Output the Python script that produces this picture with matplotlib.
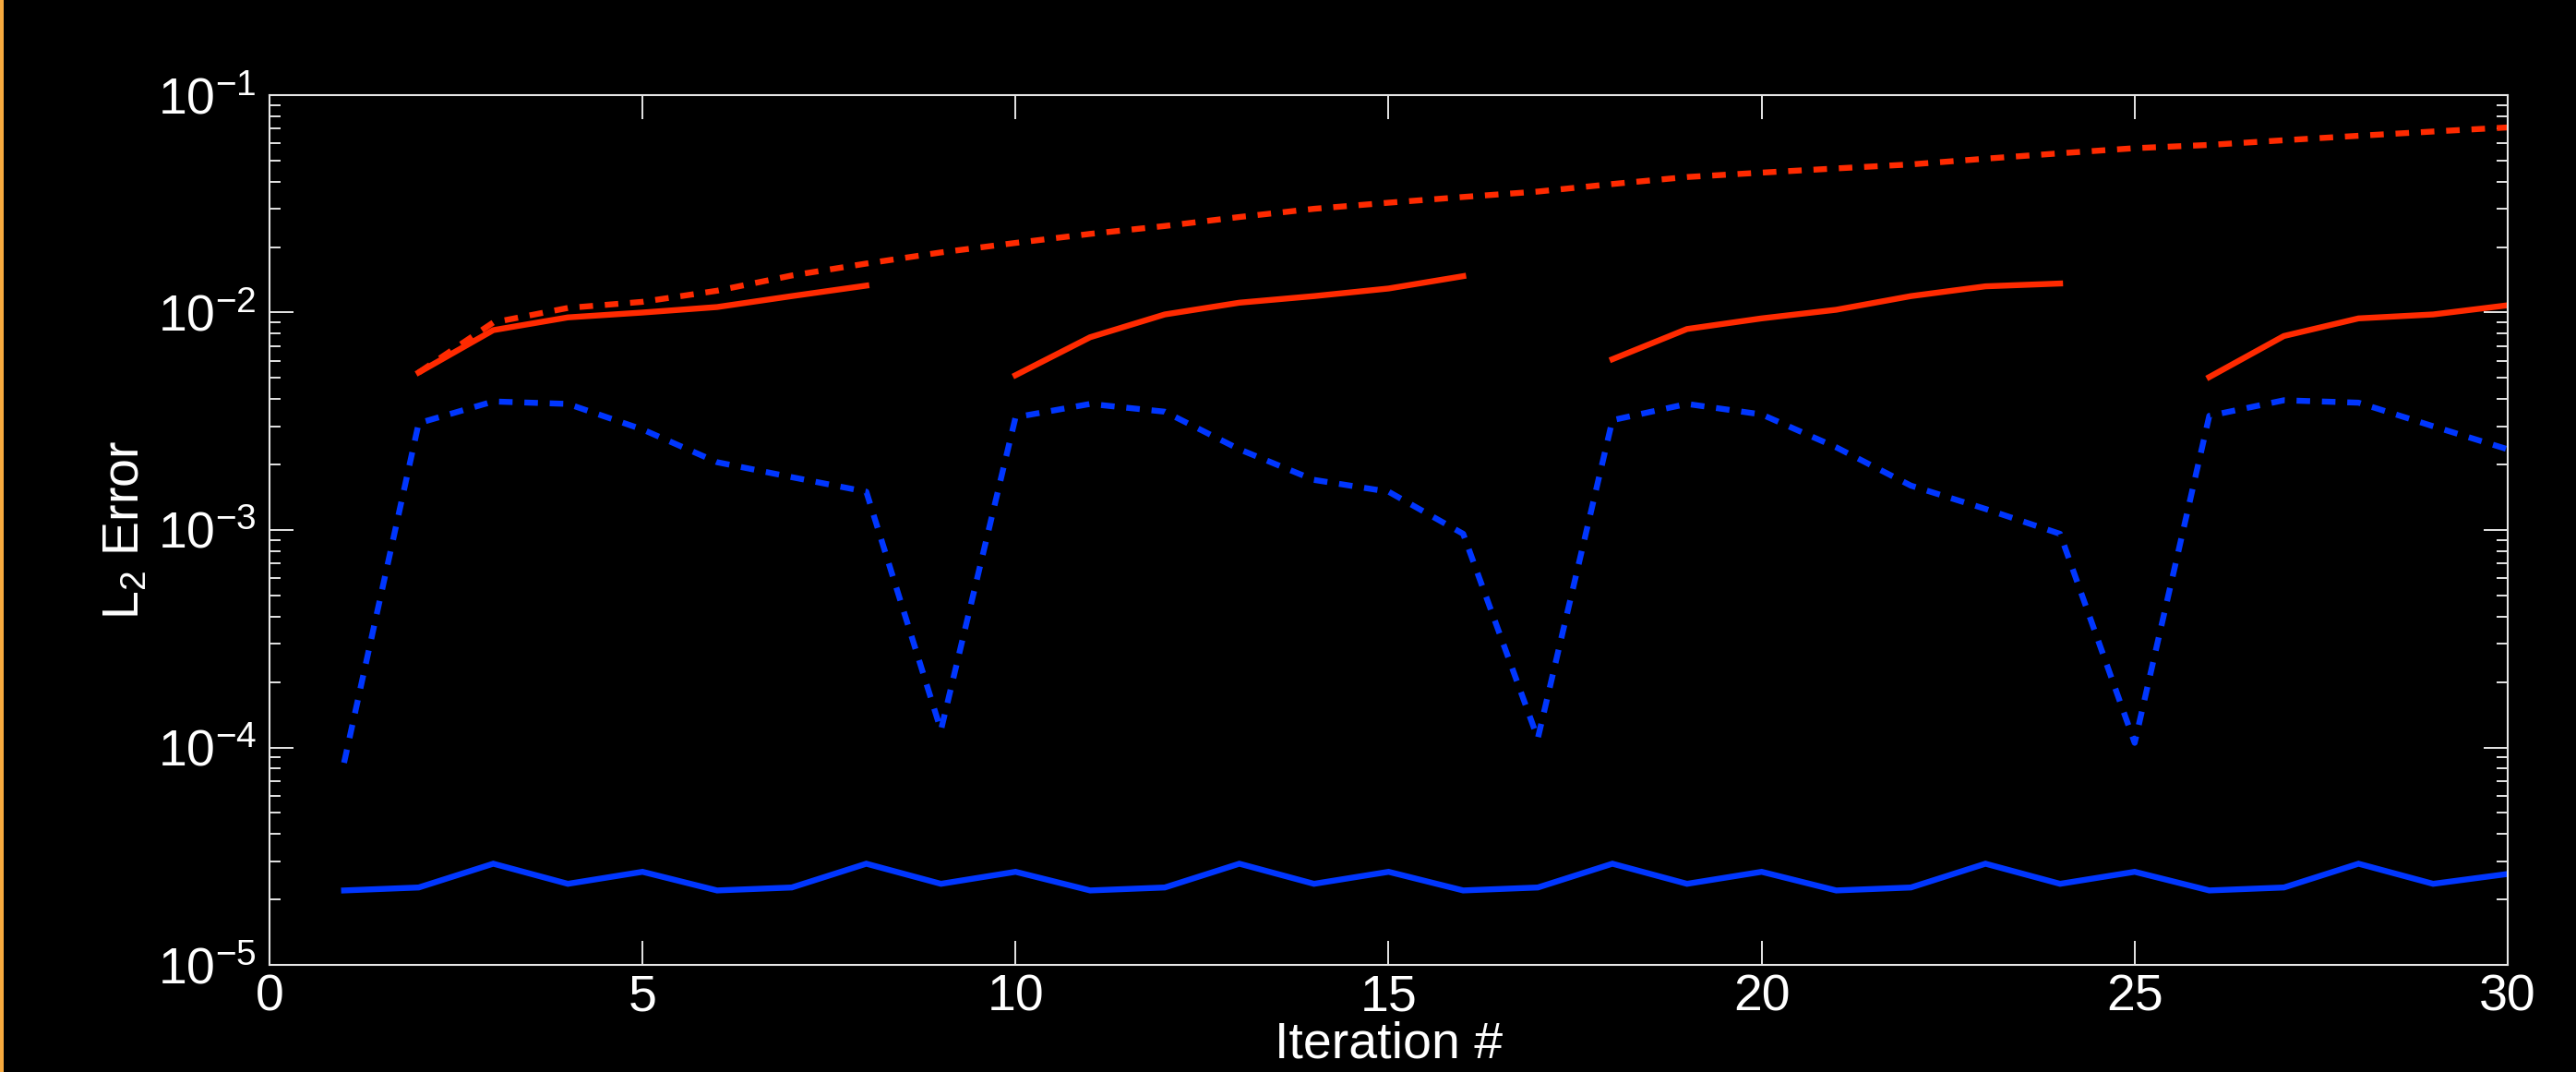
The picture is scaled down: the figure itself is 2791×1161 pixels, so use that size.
import matplotlib
matplotlib.use("Agg")
import matplotlib.pyplot as plt
import numpy as np
from matplotlib.ticker import LogLocator, FixedLocator, LogFormatterSciNotation, NullLocator

plt.rcParams['font.family'] = ['Liberation Sans', 'DejaVu Sans']
plt.rcParams['mathtext.fontset'] = 'custom'
plt.rcParams['mathtext.rm'] = 'Liberation Sans'
plt.rcParams['mathtext.it'] = 'Liberation Sans'
plt.rcParams['mathtext.default'] = 'regular'

# data
iters = list(range(1, 31))

blue_solid = [2.20e-5, 2.27e-5, 2.92e-5, 2.36e-5, 2.68e-5,
              2.20e-5, 2.27e-5, 2.92e-5, 2.36e-5, 2.68e-5,
              2.20e-5, 2.27e-5, 2.92e-5, 2.36e-5, 2.68e-5,
              2.20e-5, 2.27e-5, 2.92e-5, 2.36e-5, 2.68e-5,
              2.20e-5, 2.27e-5, 2.92e-5, 2.36e-5, 2.68e-5,
              2.20e-5, 2.27e-5, 2.92e-5, 2.36e-5, 2.62e-5]

blue_dashed = [8.5e-5, 3.1e-3, 3.9e-3, 3.8e-3, 2.9e-3, 2.05e-3, 1.75e-3, 1.5e-3,
               1.2e-4, 3.3e-3, 3.8e-3, 3.5e-3, 2.35e-3, 1.7e-3, 1.5e-3, 9.6e-4,
               1.1e-4, 3.2e-3, 3.8e-3, 3.4e-3, 2.4e-3, 1.6e-3, 1.25e-3, 9.6e-4,
               1.05e-4, 3.35e-3, 3.95e-3, 3.85e-3, 3.0e-3, 2.35e-3]

red_dashed_x = list(range(2, 31))
red_dashed = [5.3e-3, 9.0e-3, 1.05e-2, 1.12e-2, 1.26e-2, 1.48e-2, 1.68e-2, 1.89e-2,
              2.09e-2, 2.3e-2, 2.5e-2, 2.75e-2, 3.0e-2, 3.2e-2, 3.4e-2, 3.6e-2,
              3.9e-2, 4.2e-2, 4.4e-2, 4.6e-2, 4.8e-2, 5.1e-2, 5.4e-2, 5.7e-2,
              5.9e-2, 6.2e-2, 6.5e-2, 6.8e-2, 7.1e-2]

red_seg_x = [list(range(2, 9)), list(range(10, 17)), list(range(18, 25)), list(range(26, 31))]
red_seg_y = [[5.3e-3, 8.3e-3, 9.5e-3, 1.0e-2, 1.06e-2, 1.19e-2, 1.33e-2],
             [5.15e-3, 7.7e-3, 9.8e-3, 1.11e-2, 1.19e-2, 1.29e-2, 1.47e-2],
             [6.1e-3, 8.4e-3, 9.4e-3, 1.03e-2, 1.19e-2, 1.32e-2, 1.36e-2],
             [5.05e-3, 7.8e-3, 9.4e-3, 9.8e-3, 1.08e-2]]

red = '#ff2a00'
blue = '#0036ff'
axcol = '#e6e6e6'
lw = 4.6
fs = 40

fig = plt.figure(figsize=(27.91, 11.61), dpi=100, facecolor='black')
ax = fig.add_axes([0.1046, 0.0999, 0.8689, 0.8114], facecolor='black')

# orange strip at left edge
fig.add_artist(plt.Rectangle((0, 0), 4 / 2791, 1, transform=fig.transFigure,
                             color='#f7aa3f', lw=0))

ax.plot(iters, blue_solid, color=blue, lw=lw, solid_joinstyle='miter')
ax.plot(iters, blue_dashed, color=blue, lw=lw, dashes=(2.3, 2.0), dash_capstyle='butt')
ax.plot(red_dashed_x, red_dashed, color=red, lw=lw, dashes=(2.3, 2.0), dash_capstyle='butt')
for xs, ys in zip(red_seg_x, red_seg_y):
    ax.plot(xs, ys, color=red, lw=lw)

ax.set_yscale('log')
ax.set_xlim(0, 30)
ax.set_ylim(1e-5, 1e-1)

ax.xaxis.set_major_locator(FixedLocator([0, 5, 10, 15, 20, 25, 30]))
ax.xaxis.set_minor_locator(NullLocator())
ax.yaxis.set_major_locator(LogLocator(base=10, numticks=10))
ax.yaxis.set_minor_locator(LogLocator(base=10, subs=np.arange(2, 10), numticks=20))
ax.yaxis.set_major_formatter(LogFormatterSciNotation())

for s in ax.spines.values():
    s.set_color(axcol)
    s.set_linewidth(1.5)

ax.tick_params(which='both', direction='in', top=True, right=True, colors=axcol, width=1.4)
ax.tick_params(which='major', length=19)
ax.tick_params(which='minor', length=8.5)
ax.tick_params(axis='x', labelsize=fs, labelcolor='white', pad=7)
ax.tick_params(axis='y', labelsize=fs, labelcolor='white', pad=10)

ax.set_xlabel('Iteration #', fontsize=fs, color='white')
ax.set_ylabel('L$_2$ Error', fontsize=fs, color='white')
ax.xaxis.set_label_coords(0.5, -0.064)
ax.yaxis.set_label_coords(-0.0536, 0.5)

fig.savefig('out.png', dpi=100, facecolor='black')
